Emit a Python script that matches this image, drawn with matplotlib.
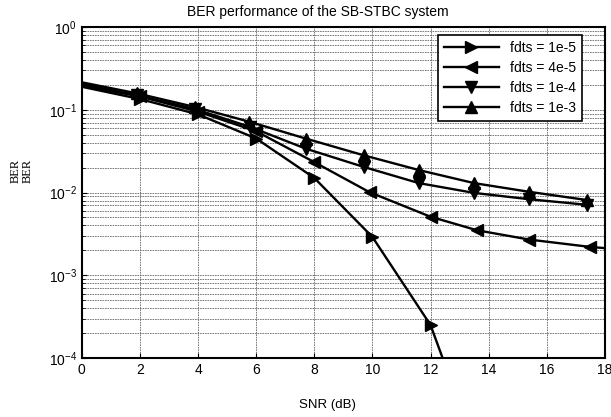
import matplotlib
matplotlib.use('Agg')
import matplotlib.pyplot as plt
from matplotlib.ticker import LogLocator, FixedLocator

plt.rcParams['font.family'] = ['Liberation Sans', 'DejaVu Sans']

# SNR (dB) / BER
snr_1e5 = [0, 2, 4, 6, 8, 10, 12, 14]
ber_1e5 = [0.19, 0.135, 0.088, 0.045, 0.0150, 0.0029, 2.5e-4, 3e-6]

snr_4e5 = [0, 2, 4, 6, 8, 9.9, 12, 13.6, 15.4, 17.5, 18.2]
ber_4e5 = [0.195, 0.145, 0.095, 0.055, 0.0233, 0.0101, 0.0051, 0.0035, 0.0027, 0.0022, 0.0021]

snr_1e4 = [0, 1.9, 3.9, 5.8, 7.7, 9.7, 11.6, 13.5, 15.4, 17.4]
ber_1e4 = [0.205, 0.15, 0.102, 0.062, 0.034, 0.0204, 0.013, 0.0099, 0.0083, 0.0071]

snr_1e3 = [0, 1.9, 3.9, 5.75, 7.7, 9.7, 11.6, 13.5, 15.4, 17.4]
ber_1e3 = [0.215, 0.158, 0.108, 0.072, 0.045, 0.0282, 0.0187, 0.013, 0.0102, 0.0081]

labels = ['fdts = 1e-5', 'fdts = 4e-5', 'fdts = 1e-4', 'fdts = 1e-3']
xticks = [0, 2, 4, 6, 8, 10, 12, 14, 16, 18]

fig = plt.figure(figsize=(6.11, 4.17), dpi=100)
ax = fig.add_axes([0.134, 0.1415, 0.856, 0.7935])

series = [(snr_1e5, ber_1e5, '>'), (snr_4e5, ber_4e5, '<'),
          (snr_1e4, ber_1e4, 'v'), (snr_1e3, ber_1e3, '^')]
for (x, y, m), lab in zip(series, labels):
    n = len(x)
    mk = list(range(1, n - 1)) if m == '<' else list(range(1, n))
    ax.plot(x, y, color='black', lw=1.7, marker=m, markersize=8.5,
            markevery=mk, label=lab)

ax.set_yscale('log')
ax.set_ylim(1e-4, 1)
ax.set_xlim(0, 18)
ax.xaxis.set_major_locator(FixedLocator(xticks))
ax.yaxis.set_major_locator(LogLocator(base=10, numticks=10))
ax.yaxis.set_minor_locator(LogLocator(base=10, subs=range(2, 10), numticks=20))

ax.grid(True, which='both', color='0.4', linestyle=(0, (2, 1)), lw=0.6)
ax.tick_params(which='both', direction='in', labelsize=10)
ax.tick_params(which='minor', length=2)
for s in ax.spines.values():
    s.set_linewidth(1.5)

ax.set_title('BER performance of the SB-STBC system', fontsize=10, pad=8,
             x=0.451)
ax.set_xlabel('SNR (dB)', fontsize=9.5, labelpad=16, x=0.47)
fig.text(0.035, 0.59, 'BER\nBER', rotation=90, family='Liberation Serif',
         fontsize=9, ha='center', va='center', linespacing=1.0)

leg = ax.legend(loc='upper right', fontsize=10, handlelength=4.0,
                fancybox=False, framealpha=1, edgecolor='black',
                bbox_to_anchor=(0.956, 0.976), borderaxespad=0,
                labelspacing=0.45)
leg.get_frame().set_linewidth(1.2)

fig.savefig('out.png', dpi=100)
